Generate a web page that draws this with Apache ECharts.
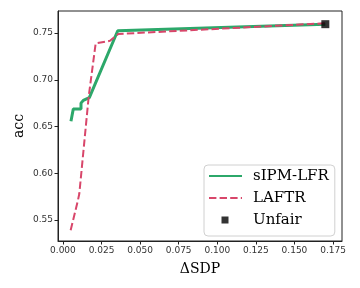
<!DOCTYPE html>
<html><head><meta charset="utf-8">
<script src="https://cdn.jsdelivr.net/npm/echarts@6/dist/echarts.min.js"></script>
<style>html,body{margin:0;padding:0;background:#fff}#c{width:360px;height:288px}</style>
</head><body><div id="c"></div>
<script>
const sipmX = [0.0052, 0.0067, 0.0117, 0.0117, 0.0132, 0.0171, 0.0355, 0.1700];
const sipmY = [0.6556, 0.6688, 0.6688, 0.675, 0.678, 0.681, 0.7525, 0.7595];
const laftrX = [0.0050, 0.0097, 0.0106, 0.0167, 0.0212, 0.0305, 0.0359, 0.1700];
const laftrY = [0.539, 0.571, 0.578, 0.6822, 0.7389, 0.7417, 0.749, 0.7605];
const unfairX = [0.1700];
const unfairY = [0.7595];
const xTicks = [0, 0.025, 0.05, 0.075, 0.1, 0.125, 0.15, 0.175];
const yTicks = [0.55, 0.6, 0.65, 0.7, 0.75];
const seriesNames = ['sIPM-LFR', 'LAFTR', 'Unfair'];

const serif = 'DejaVu Serif';
const sans = 'DejaVu Sans';
const chart = echarts.init(document.getElementById('c'), null, {renderer: 'canvas'});
const zip = (a, b) => a.map((v, i) => [v, b[i]]);
chart.setOption({
  animation: false,
  grid: {left: 58, right: 18, top: 11, bottom: 47, show: true, borderColor: '#222', borderWidth: 1},
  xAxis: {
    type: 'value', min: -0.0032, max: 0.1808,
    name: 'ΔSDP', nameLocation: 'middle', nameGap: 21, nameMoveOverlap: false,
    nameTextStyle: {fontFamily: serif, fontSize: 14, color: '#000'},
    splitLine: {show: false},
    axisLine: {show: true, onZero: false, lineStyle: {color: '#222'}},
    axisTick: {show: true, length: 3.5, customValues: xTicks, lineStyle: {color: '#222'}},
    axisLabel: {customValues: xTicks, fontFamily: sans, fontSize: 9, color: '#333', margin: 5,
      formatter: v => v.toFixed(3)}
  },
  yAxis: {
    type: 'value', min: 0.5275, max: 0.7736,
    name: 'acc', nameLocation: 'middle', nameGap: 32, nameMoveOverlap: false,
    nameTextStyle: {fontFamily: serif, fontSize: 14, color: '#000'},
    splitLine: {show: false},
    axisLine: {show: true, onZero: false, lineStyle: {color: '#222'}},
    axisTick: {show: true, length: 3.5, customValues: yTicks, lineStyle: {color: '#222'}},
    axisLabel: {customValues: yTicks, fontFamily: sans, fontSize: 9, color: '#333', margin: 5,
      formatter: v => v.toFixed(2)}
  },
  legend: {
    orient: 'vertical', left: 204, top: 165,
    backgroundColor: '#fff', borderColor: '#d0d0d0', borderWidth: 1, borderRadius: 4,
    padding: [3, 6, 8, 4], itemGap: 6, itemWidth: 33, itemHeight: 12,
    textStyle: {fontFamily: serif, fontSize: 15, color: '#000', lineHeight: 16, width: 74,
      overflow: 'none', padding: [0, 0, 0, 6]},
    data: [
      {name: seriesNames[0], itemStyle: {opacity: 0}},
      {name: seriesNames[1], itemStyle: {opacity: 0}},
      {name: seriesNames[2], icon: 'path://M0,0M33,12M12.5,2.5h7v7h-7z'}
    ]
  },
  series: [
    {name: seriesNames[0], type: 'line', data: zip(sipmX, sipmY), symbol: 'none',
      lineStyle: {color: '#2ca86a', width: 3}, itemStyle: {color: '#2ca86a'}, z: 3},
    {name: seriesNames[1], type: 'line', data: zip(laftrX, laftrY), symbol: 'none',
      lineStyle: {color: '#d8466a', width: 2, type: [7.4, 3.2]}, itemStyle: {color: '#d8466a'}, z: 4},
    {name: seriesNames[2], type: 'scatter', data: zip(unfairX, unfairY), symbol: 'rect', symbolSize: 8,
      itemStyle: {color: '#000'}, z: 5}
  ]
});
</script></body></html>
